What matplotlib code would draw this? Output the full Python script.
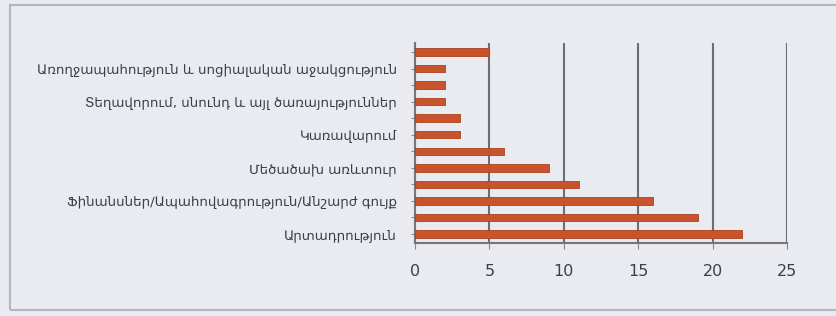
import numpy as np
import matplotlib.pyplot as plt
from matplotlib.patches import Rectangle

# bottom to top
values = [22, 19, 16, 11, 9, 6, 3, 3, 2, 2, 2, 5]
labels = ['Արտադրություն', '', 'Ֆինանսներ/Ապահովագրություն/Անշարժ գույք', '',
          'Մեծածախ առևտուր', '', 'Կառավարում', '',
          'Տեղավորում, սնունդ և այլ ծառայություններ', '',
          'Առողջապահություն և սոցիալական աջակցություն', '']
xticks = [0, 5, 10, 15, 20, 25]

bg = '#e9ebf0'
fig = plt.figure(figsize=(8.37, 3.16), dpi=100)
fig.patch.set_facecolor(bg)

# outer frame of the printed chart (runs off the right edge)
fig.add_artist(Rectangle((10/837, 1 - 310/316), 1.2, (310 - 5)/316,
                         transform=fig.transFigure, fill=False,
                         edgecolor='#b4b7bd', lw=1.5))

ax = fig.add_axes([415/837, 1 - 243/316, 372/837, 200/316])
ax.set_facecolor(bg)
y = np.arange(len(values))
ax.barh(y, values, height=0.45, color='#c9532b', edgecolor='#a84220', lw=0.6, zorder=3)
ax.set_xlim(0, 25)
ax.set_ylim(-0.55, len(values) - 0.45)
ax.set_xticks(xticks)
ax.set_xticklabels([str(t) for t in xticks])
ax.grid(axis='x', color='#6b6e73', lw=1.5, zorder=1)
ax.set_yticks(y)
ax.set_yticklabels(labels, fontsize=9.6, color='#3d3f44', family='DejaVu Sans')
ax.tick_params(axis='y', length=3, color='#888', pad=10)
ax.tick_params(axis='x', length=4, color='#888', labelsize=11.5, labelcolor='#3d3f44', pad=11)
for s in ['top', 'right']:
    ax.spines[s].set_visible(False)
ax.spines['left'].set_color('#777')
ax.spines['bottom'].set_color('#777')
ax.spines['left'].set_linewidth(1.5)
ax.spines['bottom'].set_linewidth(1.5)

fig.savefig('out.png', dpi=100, facecolor=bg)
